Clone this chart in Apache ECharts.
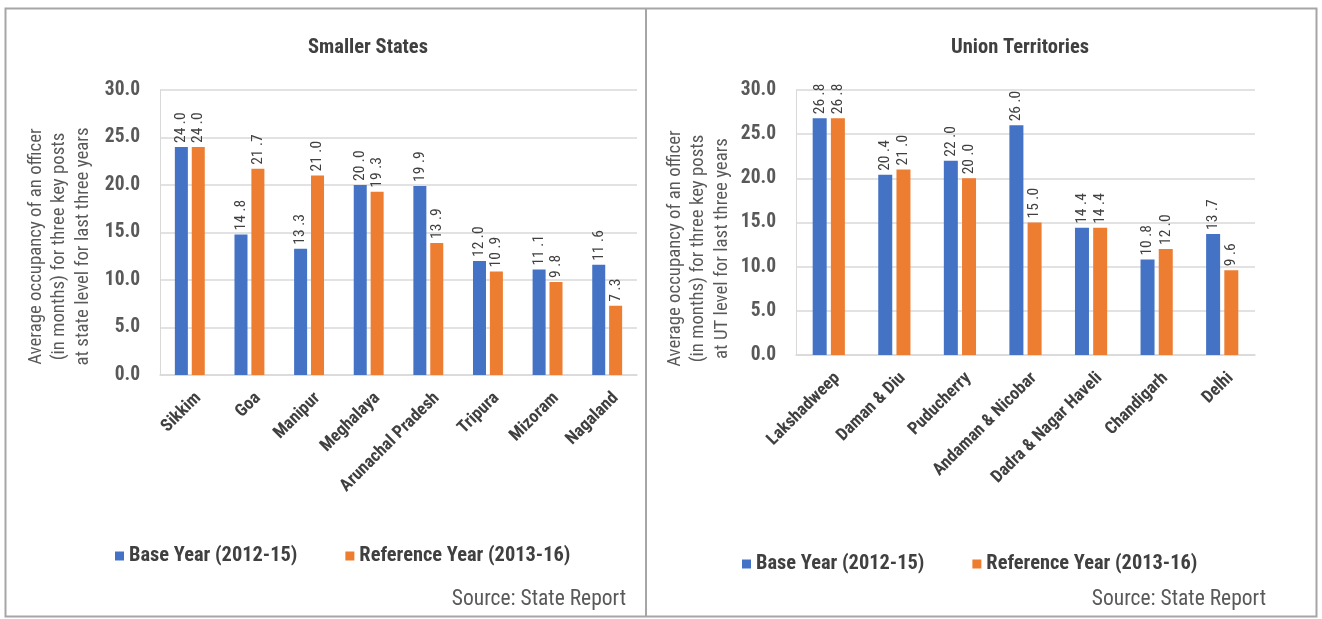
<!DOCTYPE html>
<html><head><meta charset="utf-8">
<script src="https://cdn.jsdelivr.net/npm/echarts@6/dist/echarts.min.js"></script>
<style>html,body{margin:0;padding:0;background:#fff}#c{width:1322px;height:619px}</style>
</head><body><div id="c"></div>
<script>
const statesCats = ['Sikkim','Goa','Manipur','Meghalaya','Arunachal Pradesh','Tripura','Mizoram','Nagaland'];
const statesBase = [24.0,14.8,13.3,20.0,19.9,12.0,11.1,11.6];
const statesRef  = [24.0,21.7,21.0,19.3,13.9,10.9,9.8,7.3];
const utCats = ['Lakshadweep','Daman & Diu','Puducherry','Andaman & Nicobar','Dadra & Nagar Haveli','Chandigarh','Delhi'];
const utBase = [26.8,20.4,22.0,26.0,14.4,10.8,13.7];
const utRef  = [26.8,21.0,20.0,15.0,14.4,12.0,9.6];
const seriesNames = ['Base Year (2012-15)','Reference Year (2013-16)'];
const yTicks = {min:0,max:30,interval:5};

const F = "'Roboto Condensed','Liberation Sans Narrow','DejaVu Sans Condensed','Arial Narrow',sans-serif";
const BLUE = '#4472C4', ORANGE = '#ED7D31', TXT = '#404040', GRAY = '#595959';

function yAxis(idx, name, gap, shift){
  return {type:'value', gridIndex:idx, min:yTicks.min, max:yTicks.max, interval:yTicks.interval,
    axisLabel:{formatter:v=>v.toFixed(1), fontFamily:F, fontWeight:'bold', fontSize:19.5, color:GRAY, margin:20},
    axisLine:{show:true, lineStyle:{color:'#d9d9d9'}}, axisTick:{show:false},
    splitLine:{lineStyle:{color:'#d9d9d9', width:1.5}},
    name:name, nameLocation:'middle', nameRotate:90, nameGap:gap,
    nameTextStyle:{fontFamily:F, fontSize:18.8, color:GRAY, lineHeight:23.5, align:'center', padding:[0, shift*2, 0, 0]}};
}
function xAxis(idx, cats){
  return {type:'category', gridIndex:idx, data:cats,
    axisLine:{lineStyle:{color:'#d9d9d9', width:1.5}}, axisTick:{show:false},
    axisLabel:{rotate:45, interval:0, fontFamily:F, fontWeight:'bold', fontSize:17.5, color:TXT, margin:12,
      verticalAlign:'top', lineHeight:24}};
}
const lbl = {show:true, position:'top', rotate:90, align:'left', verticalAlign:'middle', distance:4,
  fontFamily:F, fontSize:15.5, color:TXT, formatter:p=>{const s=p.value.toFixed(1).split('.');return s[0]+' .'+s[1];}};
function bar(name, data, idx, color, w){
  return {type:'bar', name:name, data:data, xAxisIndex:idx, yAxisIndex:idx, barWidth:w, barGap:'30%',
    itemStyle:{color:color}, label:lbl};
}
const legendText = {fontFamily:F, fontWeight:'bold', fontSize:20.4, color:TXT};
const chart = echarts.init(document.getElementById('c'), null, {renderer:'canvas'});
chart.setOption({
  backgroundColor:'#fff',
  animation:false,
  title:[
    {text:'Smaller States', left:363, top:32, textAlign:'center', textStyle:{fontFamily:F, fontWeight:'bold', fontSize:20.5, color:TXT}},
    {text:'Union Territories', left:1015, top:32, textAlign:'center', textStyle:{fontFamily:F, fontWeight:'bold', fontSize:20.5, color:TXT}}
  ],
  legend:[
    {data:seriesNames, left:110, top:541, itemWidth:9, itemHeight:9, icon:'rect', itemGap:48, textStyle:legendText},
    {data:seriesNames, left:737, top:549, itemWidth:9, itemHeight:9, icon:'rect', itemGap:48, textStyle:legendText}
  ],
  grid:[
    {left:160, top:90, width:477, height:285},
    {left:796, top:90, width:459, height:265}
  ],
  xAxis:[xAxis(0, statesCats), xAxis(1, utCats)],
  yAxis:[
    yAxis(0, 'Average occupancy of an officer\n(in months) for three key posts\nat state level for last three years', 65, 14),
    yAxis(1, 'Average occupancy of an officer\n(in months) for three key posts\nat UT level for last three years', 62, 26)
  ],
  series:[
    bar(seriesNames[0], statesBase, 0, BLUE, 13),
    bar(seriesNames[1], statesRef, 0, ORANGE, 13),
    bar(seriesNames[0], utBase, 1, BLUE, 14),
    bar(seriesNames[1], utRef, 1, ORANGE, 14)
  ],
  graphic:[
    {type:'rect', shape:{x:5.5, y:8.5, width:1311, height:608}, style:{fill:null, stroke:'#a6a6a6', lineWidth:2}, silent:true},
    {type:'line', shape:{x1:646, y1:8, x2:646, y2:617}, style:{stroke:'#a6a6a6', lineWidth:2}, silent:true},
    {type:'text', right:1322-626, top:589, style:{text:'Source: State Report', font:"21.5px "+F, fill:GRAY}},
    {type:'text', right:1322-1266, top:589, style:{text:'Source: State Report', font:"21.5px "+F, fill:GRAY}}
  ]
});
</script></body></html>
